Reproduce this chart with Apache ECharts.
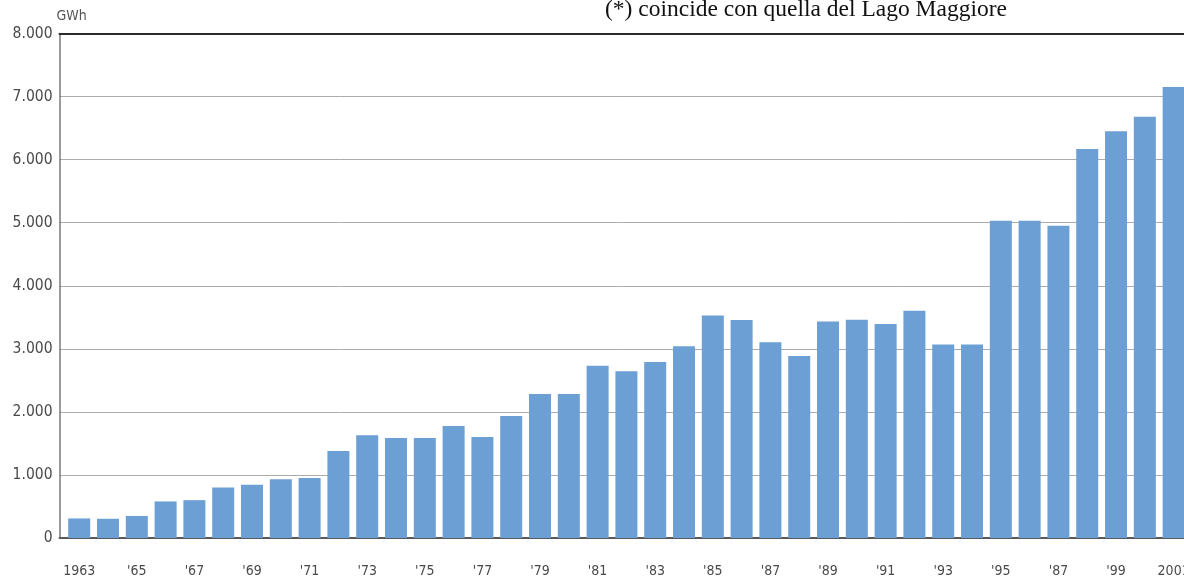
<!DOCTYPE html>
<html>
<head>
<meta charset="utf-8">
<script src="https://cdn.jsdelivr.net/npm/echarts@6/dist/echarts.min.js"></script>
<style>
  html, body { margin: 0; padding: 0; background: #ffffff; overflow: hidden; }
  #chart { width: 1184px; height: 579px; }
</style>
</head>
<body>
<div id="chart"></div>
<script>
// Annual production, GWh
const years = [
  1963, 1964, 1965, 1966, 1967, 1968, 1969, 1970, 1971, 1972,
  1973, 1974, 1975, 1976, 1977, 1978, 1979, 1980, 1981, 1982,
  1983, 1984, 1985, 1986, 1987, 1988, 1989, 1990, 1991, 1992,
  1993, 1994, 1995, 1996, 1997, 1998, 1999, 2000, 2001
];
const production = [
  310, 305, 350, 580, 600, 800, 845, 930, 950, 1380,
  1630, 1585, 1585, 1775, 1600, 1935, 2285, 2285, 2730, 2645,
  2790, 3040, 3530, 3455, 3105, 2885, 3435, 3460, 3395, 3605,
  3070, 3070, 5030, 5030, 4950, 6170, 6450, 6680, 7150
];
// Years that carry a label on the horizontal axis, and their text
const tickYears = [
  1963, 1965, 1967, 1969, 1971, 1973, 1975, 1977, 1979, 1981,
  1983, 1985, 1987, 1989, 1991, 1993, 1995, 1997, 1999, 2001
];
const tickLabels = [
  "1963", "'65", "'67", "'69", "'71", "'73", "'75", "'77", "'79", "'81",
  "'83", "'85", "'87", "'89", "'91", "'93", "'95", "'87", "'99", "2001"
];
const noteText = "(*) coincide con quella del Lago Maggiore";
const unitText = "GWh";

const X_MIN = 1962.316;
const X_MAX = 2001.36;
const labelFont = "'DejaVu Sans Condensed', 'DejaVu Sans', sans-serif";

function thousands(v) {
  return String(v).replace(/\B(?=(\d{3})+(?!\d))/g, ".");
}

const chart = echarts.init(document.getElementById("chart"), null, { renderer: "canvas" });

chart.setOption({
  animation: false,
  backgroundColor: "#ffffff",
  title: {
    text: noteText,
    left: 605,
    top: -2,
    padding: 0,
    textStyle: {
      fontFamily: "'Liberation Serif', 'DejaVu Serif', serif",
      fontWeight: "normal",
      fontSize: 23.5,
      color: "#111111"
    }
  },
  grid: {
    left: 59.5,
    right: 0,
    top: 33.5,
    bottom: 41,
    containLabel: false,
    outerBoundsMode: "none"
  },
  xAxis: [
    {
      type: "value",
      position: "bottom",
      min: X_MIN,
      max: X_MAX,
      axisLine: { show: true, lineStyle: { color: "#5a5a5a", width: 2 } },
      axisTick: { show: false },
      splitLine: { show: false },
      axisLabel: {
        customValues: tickYears,
        formatter: function (v) {
          const i = tickYears.indexOf(Math.round(v));
          return i >= 0 ? tickLabels[i] : "";
        },
        margin: 26,
        fontFamily: labelFont,
        fontSize: 14,
        color: "#4a4a4a"
      }
    },
    {
      type: "value",
      position: "top",
      min: X_MIN,
      max: X_MAX,
      axisLine: { show: true, lineStyle: { color: "#2a2a2a", width: 2 } },
      axisTick: { show: false },
      axisLabel: { show: false },
      splitLine: { show: false }
    }
  ],
  yAxis: {
    type: "value",
    min: 0,
    max: 8000,
    interval: 1000,
    name: unitText,
    nameLocation: "end",
    nameGap: 10,
    nameTextStyle: {
      align: "left",
      verticalAlign: "bottom",
      fontFamily: labelFont,
      fontSize: 14,
      color: "#555555",
      padding: [0, 0, 0, -3]
    },
    axisLine: { show: true, lineStyle: { color: "#7a7a7a", width: 1.5 } },
    axisTick: { show: false },
    axisLabel: {
      formatter: thousands,
      margin: 7,
      fontFamily: labelFont,
      fontSize: 15.5,
      color: "#4a4a4a"
    },
    splitLine: { show: true, lineStyle: { color: "#ababab", width: 1 } }
  },
  series: [
    {
      type: "bar",
      xAxisIndex: 0,
      barWidth: 22,
      data: years.map((y, i) => [y, production[i]]),
      itemStyle: { color: "#6c9fd3" }
    }
  ]
});
</script>
</body>
</html>
